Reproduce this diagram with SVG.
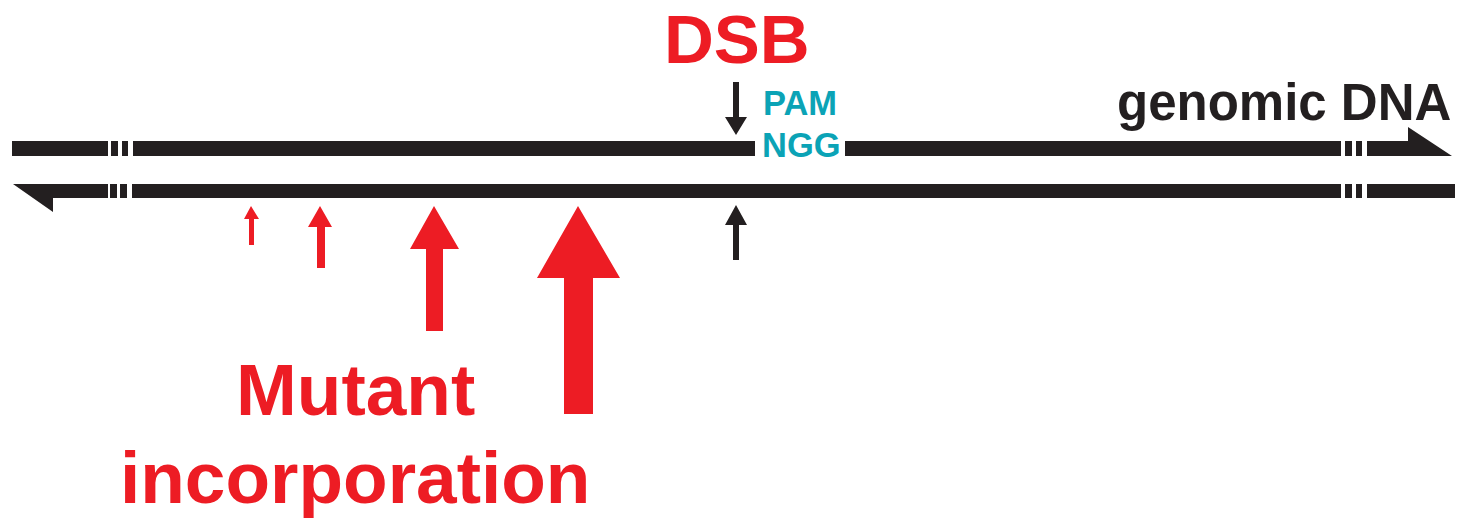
<svg xmlns="http://www.w3.org/2000/svg" width="1458" height="518" viewBox="0 0 1458 518">
  <style>
    .dna { fill: #231f20; }
    .mut { fill: #ed1c24; }
    .cut { fill: #231f20; }
    .lbl { font-family: "Liberation Sans", Arial, sans-serif; font-weight: bold; }
    .red { fill: #ed1c24; }
    .teal { fill: #0ba3b6; }
    .blk { fill: #231f20; }
  </style>
  <rect width="1458" height="518" fill="#ffffff"/>

  <!-- upper strand (5' to 3'), broken at the cut site -->
  <g id="top-strand" class="dna">
    <rect x="12" y="141" width="96" height="15"/>
    <rect x="111" y="141" width="7" height="15"/>
    <rect x="122" y="141" width="6" height="15"/>
    <rect x="133" y="141" width="622" height="15"/>
    <rect x="845" y="141" width="496" height="15"/>
    <rect x="1345" y="141" width="7" height="15"/>
    <rect x="1356" y="141" width="6" height="15"/>
    <polygon points="1367,141 1408,141 1408,127 1452,156 1367,156"/>
  </g>

  <!-- lower strand (3' to 5') -->
  <g id="bottom-strand" class="dna">
    <polygon points="13,184 108,184 108,198 53,198 53,212"/>
    <rect x="110" y="184" width="7" height="14"/>
    <rect x="120" y="184" width="7" height="14"/>
    <rect x="132" y="184" width="1209" height="14"/>
    <rect x="1345" y="184" width="7" height="14"/>
    <rect x="1356" y="184" width="6" height="14"/>
    <rect x="1367" y="184" width="88" height="14"/>
  </g>

  <!-- labels -->
  <g id="dsb-label">
    <text class="lbl red" x="664" y="63" font-size="69">DSB</text>
  </g>
  <g id="pam-label">
    <text class="lbl teal" x="763" y="115" font-size="34.5">PAM</text>
    <text class="lbl teal" x="762" y="157" font-size="34.5">NGG</text>
  </g>
  <g id="genomic-label">
    <text class="lbl blk" x="1117" y="120" font-size="51">genomic DNA</text>
  </g>
  <g id="mutant-label">
    <text class="lbl red" x="236" y="415" font-size="73">Mutant</text>
    <text class="lbl red" x="120" y="503" font-size="73">incorporation</text>
  </g>

  <!-- arrows: cut positions and mutation frequency -->
  <g id="connectors">
    <polygon class="cut" points="733,82 739,82 739,117 747,117 736,135 725,117 733,117"/>
    <polygon class="cut" points="736,205 747,225 739,225 739,260 733,260 733,225 725,225"/>
    <polygon class="mut" points="251,206 259,219 254,219 254,245 249,245 249,219 244,219"/>
    <polygon class="mut" points="320,206 332,227 325,227 325,268 317,268 317,227 308,227"/>
    <polygon class="mut" points="434,206 459,249 443,249 443,331 426,331 426,249 410,249"/>
    <polygon class="mut" points="578,206 620,278 593,278 593,414 564,414 564,278 537,278"/>
  </g>
</svg>
